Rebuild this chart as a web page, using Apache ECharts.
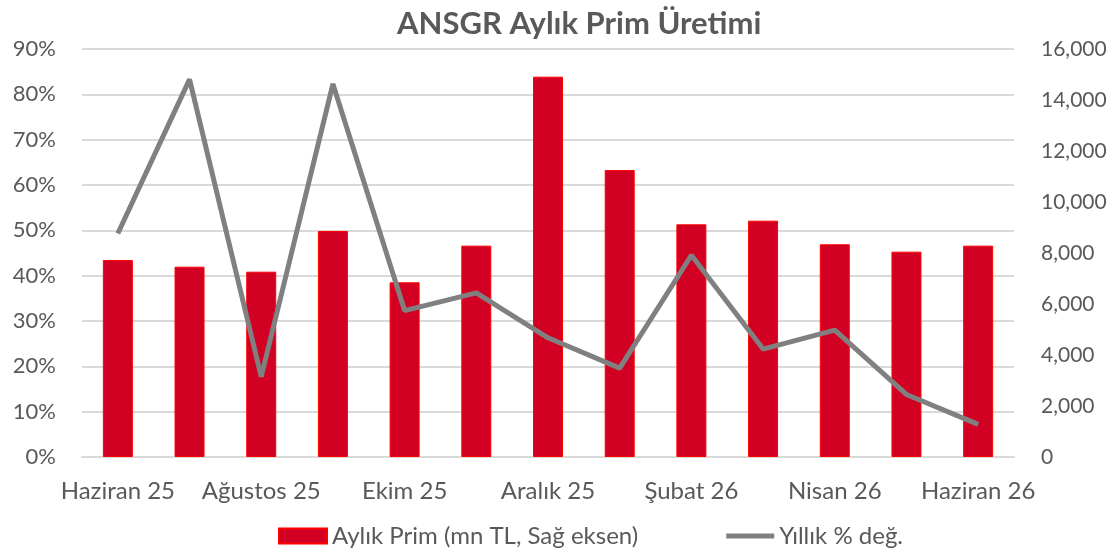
<!DOCTYPE html>
<html>
<head>
<meta charset="utf-8">
<script src="https://cdn.jsdelivr.net/npm/echarts@6/dist/echarts.min.js"></script>
<style>
  html, body { margin: 0; padding: 0; background: #fff; }
  #chart { width: 1117px; height: 551px; }
</style>
</head>
<body>
<div id="chart"></div>
<script>
// aylar
var categories = ["Haziran 25", "Temmuz 25", "Ağustos 25", "Eylül 25", "Ekim 25", "Kasım 25",
  "Aralık 25", "Ocak 26", "Şubat 26", "Mart 26", "Nisan 26", "Mayıs 26", "Haziran 26"];
// aylık prim, mn TL (sağ eksen)
var primData = [7725, 7463, 7267, 8863, 6850, 8288, 14914, 11255, 9125, 9267, 8341, 8051, 8288];
// yıllık % değişim (sol eksen)
var yoyData = [49.3, 83.3, 17.7, 82.3, 32.3, 36.2, 26.3, 19.6, 44.5, 23.8, 28.0, 13.8, 7.2];

var font = "Lato, 'Liberation Sans', sans-serif";
var textColor = "#595959";

var chart = echarts.init(document.getElementById("chart"));
chart.setOption({
  animation: false,
  title: {
    text: "ANSGR Aylık Prim Üretimi",
    left: 392,
    top: 3,
    textStyle: { fontFamily: font, fontSize: 31, fontWeight: "bold", color: textColor }
  },
  legend: {
    left: 273,
    top: 519,
    itemGap: 88,
    itemWidth: 48,
    itemHeight: 15,
    textStyle: { fontFamily: font, fontSize: 24, color: textColor },
    data: [
      { name: "Aylık Prim (mn TL, Sağ eksen)", icon: "rect" },
      { name: "Yıllık % değ.", icon: "path://M0,0 L48,0 L48,5 L0,5 Z" }
    ]
  },
  grid: { left: 82, right: 103, top: 49, bottom: 94 },
  xAxis: {
    type: "category",
    data: categories,
    axisTick: { show: false },
    axisLine: { lineStyle: { color: "#d9d9d9", width: 2 } },
    axisLabel: { interval: 1, margin: 22, fontFamily: font, fontSize: 24, color: textColor }
  },
  yAxis: [
    {
      type: "value",
      min: 0,
      max: 90,
      interval: 10,
      position: "left",
      axisLabel: { formatter: "{value}%", margin: 26, fontFamily: font, fontSize: 22, color: textColor },
      splitLine: { lineStyle: { color: "#d9d9d9", width: 2 } }
    },
    {
      type: "value",
      min: 0,
      max: 16000,
      interval: 2000,
      position: "right",
      axisLabel: {
        margin: 27, fontFamily: font, fontSize: 21, color: textColor,
        formatter: function (v) { return v.toLocaleString("en-US"); }
      },
      splitLine: { show: false }
    }
  ],
  series: [
    {
      name: "Aylık Prim (mn TL, Sağ eksen)",
      type: "bar",
      yAxisIndex: 1,
      data: primData,
      barWidth: 30,
      itemStyle: { color: "#d20022", borderColor: "#ff0000", borderWidth: 1 }
    },
    {
      name: "Yıllık % değ.",
      type: "line",
      yAxisIndex: 0,
      data: yoyData,
      symbol: "none",
      z: 5,
      lineStyle: { color: "#808080", width: 5 },
      itemStyle: { color: "#808080" }
    }
  ]
});
</script>
</body>
</html>
